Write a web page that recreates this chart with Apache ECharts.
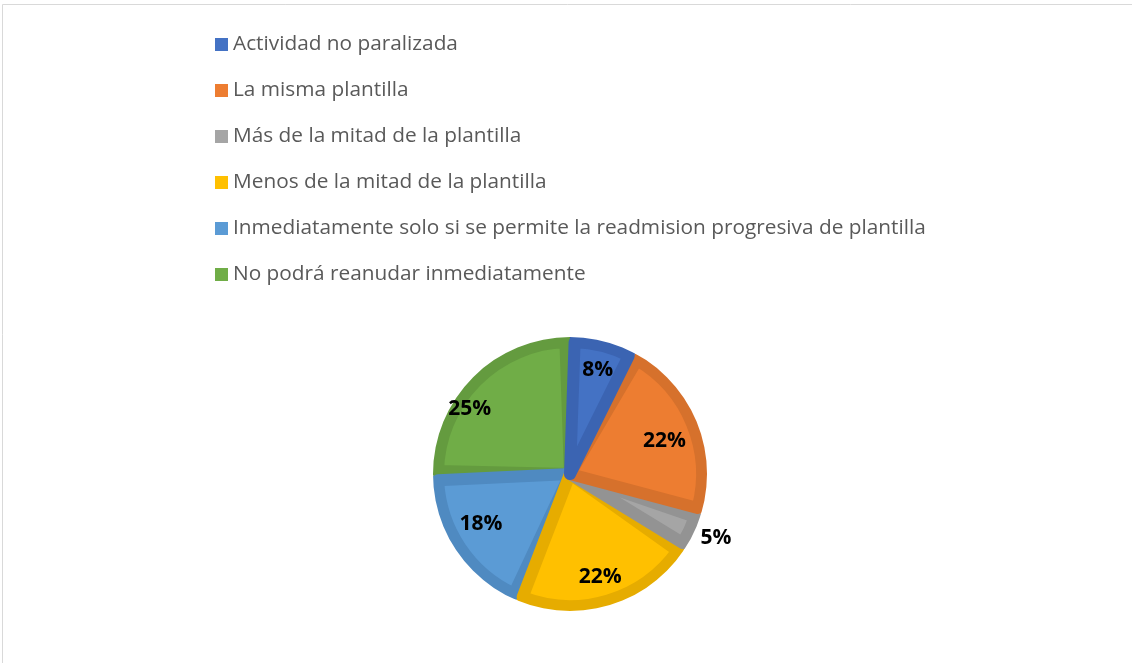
<!DOCTYPE html>
<html>
<head>
<meta charset="utf-8">
<script src="https://cdn.jsdelivr.net/npm/echarts@6/dist/echarts.min.js"></script>
<style>
html, body { margin: 0; padding: 0; background: #fff; }
#main { width: 1132px; height: 663px; }
</style>
</head>
<body>
<div id="main"></div>
<script>
var categories = [
    'Actividad no paralizada',
    'La misma plantilla',
    'Más de la mitad de la plantilla',
    'Menos de la mitad de la plantilla',
    'Inmediatamente solo si se permite la readmision progresiva de plantilla',
    'No podrá reanudar inmediatamente'
];
var values = [7.9, 21.8, 4.6, 22.1, 18.4, 25.2];
var fillColors = ['#4472C4', '#ED7D31', '#A5A5A5', '#FFC000', '#5B9BD5', '#70AD47'];
var edgeColors = ['#3B64B2', '#D6712C', '#939393', '#E6AC00', '#4F8AC1', '#649B3F'];
// small nudges so the % labels sit where Excel put them
var labelOffsets = [[1, 1], [-6, 8], [0, 4], [-1, -1], [1, -10], [-23, 11]];

var pieCenter = [570, 474];
var pieR = 137;

var myChart = echarts.init(document.getElementById('main'));

// pie goes counter-clockwise with reversed order (padAngle behaves properly that way)
function makeData(colors, extra) {
    var arr = categories.map(function (name, i) {
        var d = { name: name, value: values[i], itemStyle: { color: colors[i] } };
        if (extra) extra(d, i);
        return d;
    });
    return arr.reverse();
}

var option = {
    animation: false,
    graphic: [{
        type: 'rect',
        silent: true,
        shape: { x: 2.5, y: 4.5, width: 1300, height: 800 },
        style: { fill: 'none', stroke: '#d9d9d9', lineWidth: 1 }
    }],
    legend: {
        orient: 'vertical',
        left: 210,
        top: 29,
        padding: 5,
        itemWidth: 13,
        itemHeight: 13,
        itemGap: 25,
        icon: 'rect',
        selectedMode: false,
        textStyle: { fontFamily: 'Open Sans', fontSize: 20.8, color: '#595959', lineHeight: 20 },
        data: categories.map(function (name, i) {
            return { name: name, itemStyle: { color: fillColors[i] } };
        })
    },
    series: [
        {
            // dark base = slice edges
            type: 'pie',
            z: 1,
            silent: true,
            center: pieCenter,
            radius: [0, pieR],
            startAngle: 90,
            clockwise: false,
            label: { show: false },
            labelLine: { show: false },
            emphasis: { disabled: true },
            data: makeData(edgeColors)
        },
        {
            // lighter inner area, inset by its own darker border
            type: 'pie',
            z: 2,
            silent: true,
            center: pieCenter,
            radius: [0, pieR - 5],
            startAngle: 90,
            clockwise: false,
            padAngle: 4,
            label: { show: false },
            labelLine: { show: false },
            emphasis: { disabled: true },
            data: makeData(fillColors, function (d, i) {
                d.itemStyle.borderColor = edgeColors[i];
                d.itemStyle.borderWidth = 12;
                d.itemStyle.borderJoin = 'round';
            })
        },
        {
            // white ring trimming border overflow outside the pie
            type: 'pie',
            z: 3,
            silent: true,
            center: pieCenter,
            radius: [pieR, pieR + 14],
            label: { show: false },
            labelLine: { show: false },
            emphasis: { disabled: true },
            itemStyle: { color: '#fff' },
            data: [{ name: '', value: 1 }]
        },
        {
            // labels only
            type: 'pie',
            z: 4,
            silent: true,
            center: pieCenter,
            radius: [74, pieR],
            startAngle: 90,
            clockwise: false,
            itemStyle: { color: 'transparent' },
            emphasis: { disabled: true },
            label: {
                show: true,
                position: 'inside',
                formatter: function (p) { return Math.round(p.value) + '%'; },
                fontFamily: 'Open Sans',
                fontWeight: 'bold',
                fontSize: 21,
                color: '#000'
            },
            labelLine: { show: false },
            data: makeData(fillColors.map(function () { return 'transparent'; }), function (d, i) {
                d.label = { offset: labelOffsets[i] };
                if (i === 2) {
                    d.label.position = 'outside';
                    d.label.distanceToLabelLine = 3;
                    d.labelLine = { show: false, length: 4, length2: 0 };
                }
            })
        }
    ]
};

myChart.setOption(option);
</script>
</body>
</html>
